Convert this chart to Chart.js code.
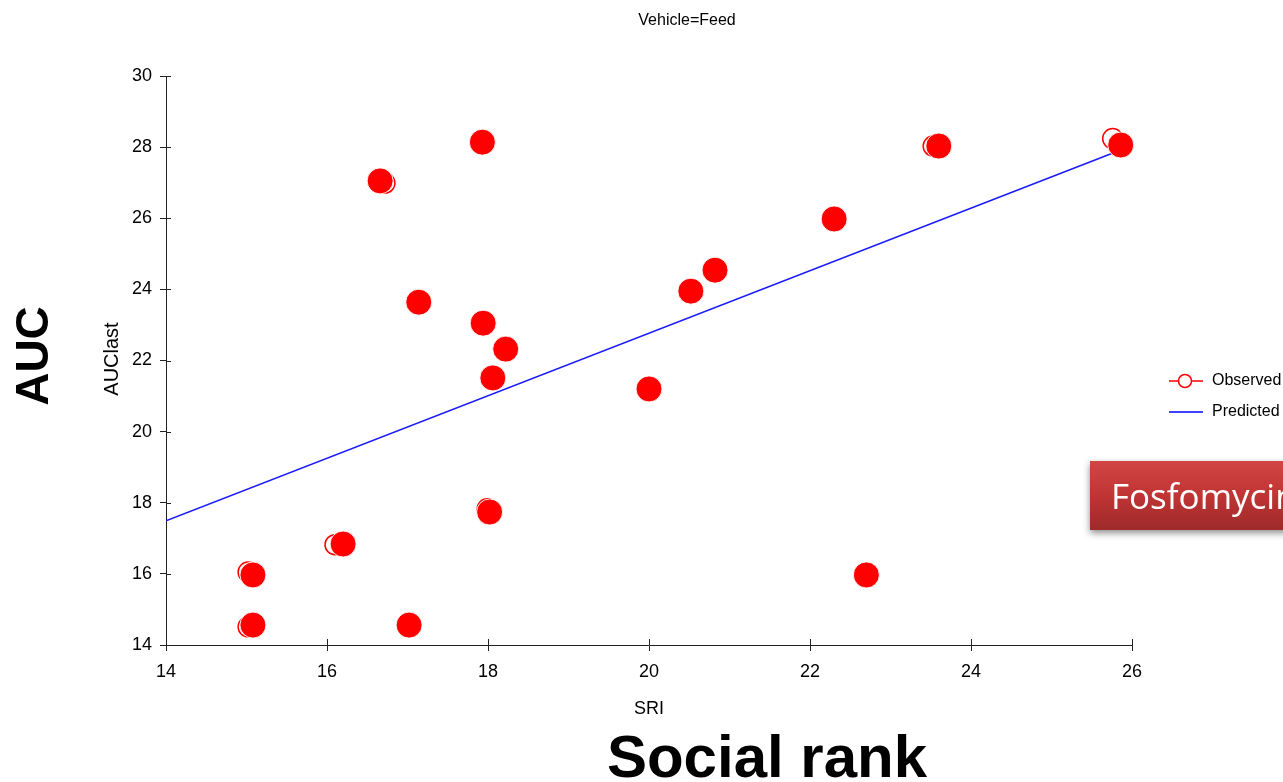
<!DOCTYPE html>
<html>
<head>
<meta charset="utf-8">
<title>Vehicle=Feed</title>
<script src="https://cdn.jsdelivr.net/npm/chart.js@4/dist/chart.umd.min.js"></script>
<style>
  html, body { margin: 0; padding: 0; background: #fff; }
  #wrap { width: 1283px; height: 782px; }
</style>
</head>
<body>
<div id="wrap"><canvas id="auc-chart" width="1283" height="782"></canvas></div>
<script>
// observed points (SRI vs AUClast)
var sri = [17.93, 16.66, 25.86, 23.60, 22.30, 20.82, 20.52, 17.14, 17.94, 18.22, 18.06, 20.00, 18.02, 16.20, 15.08, 22.70, 15.08, 17.02];
var auc = [28.14, 27.05, 28.06, 28.03, 25.98, 24.54, 23.95, 23.64, 23.05, 22.32, 21.51, 21.20, 17.74, 16.84, 15.97, 15.97, 14.56, 14.56];

// repeated observations peeking out behind the filled markers
var sriDup = [16.72, 16.10, 15.02, 15.02, 23.53, 25.76, 17.99];
var aucDup = [26.99, 16.82, 16.05, 14.51, 28.03, 28.24, 17.83];

// regression line
var predX = [14, 25.86];
var predY = [17.49, 27.92];

var xTicks = [14, 16, 18, 20, 22, 24, 26];
var yTicks = [14, 16, 18, 20, 22, 24, 26, 28, 30];

function toPoints(xs, ys) {
    return xs.map(function (x, i) { return { x: x, y: ys[i] }; });
}

Chart.defaults.font.family = "'Liberation Sans', Arial, sans-serif";
Chart.defaults.color = '#000';

// ticks cross the axis in the original, so add the inner half by hand
var innerTicks = {
    id: 'innerTicks',
    beforeDatasetsDraw: function (chart) {
        var ctx = chart.ctx;
        var xs = chart.scales.x, ys = chart.scales.y;
        ctx.save();
        ctx.strokeStyle = '#222';
        ctx.lineWidth = 1;
        ctx.beginPath();
        xTicks.forEach(function (v) {
            var px = Math.round(xs.getPixelForValue(v)) + 0.5;
            ctx.moveTo(px, ys.bottom);
            ctx.lineTo(px, ys.bottom - 6);
        });
        yTicks.forEach(function (v) {
            var py = Math.round(ys.getPixelForValue(v)) + 0.5;
            ctx.moveTo(xs.left, py);
            ctx.lineTo(xs.left + 5, py);
        });
        ctx.stroke();
        ctx.restore();
    }
};

var extras = {
    id: 'extras',
    afterDraw: function (chart) {
        var ctx = chart.ctx;
        ctx.save();
        ctx.fillStyle = '#000';

        ctx.font = "16px 'Liberation Sans', Arial, sans-serif";
        ctx.textAlign = 'center';
        ctx.textBaseline = 'alphabetic';
        ctx.fillText('Vehicle=Feed', 687, 25);

        ctx.font = "18px 'Liberation Sans', Arial, sans-serif";
        ctx.fillText('SRI', 649, 714);

        ctx.save();
        ctx.translate(118, 359);
        ctx.rotate(-Math.PI / 2);
        ctx.font = "20px 'Liberation Sans', Arial, sans-serif";
        ctx.fillText('AUClast', 0, 0);
        ctx.restore();

        // slide annotations
        ctx.save();
        ctx.translate(48, 356);
        ctx.rotate(-Math.PI / 2);
        ctx.font = "bold 46px 'Liberation Sans', Arial, sans-serif";
        ctx.fillText('AUC', 0, 0);
        ctx.restore();

        ctx.font = "bold 60px 'Liberation Sans', Arial, sans-serif";
        ctx.fillText('Social rank', 767, 777);

        // legend
        ctx.lineWidth = 1.5;
        ctx.strokeStyle = '#ff0000';
        ctx.beginPath();
        ctx.moveTo(1169, 381); ctx.lineTo(1203, 381);
        ctx.stroke();
        ctx.beginPath();
        ctx.arc(1185, 381, 6.5, 0, Math.PI * 2);
        ctx.fillStyle = '#fff';
        ctx.fill();
        ctx.stroke();
        ctx.strokeStyle = '#0000ff';
        ctx.beginPath();
        ctx.moveTo(1169, 412); ctx.lineTo(1203, 412);
        ctx.stroke();
        ctx.fillStyle = '#000';
        ctx.font = "16px 'Liberation Sans', Arial, sans-serif";
        ctx.textAlign = 'left';
        ctx.textBaseline = 'middle';
        ctx.fillText('Observed', 1212, 381);
        ctx.fillText('Predicted', 1212, 412);

        // red label box
        ctx.save();
        ctx.shadowColor = 'rgba(0,0,0,0.45)';
        ctx.shadowBlur = 7;
        ctx.shadowOffsetY = 3;
        var g = ctx.createLinearGradient(0, 461, 0, 530);
        g.addColorStop(0, '#d34545');
        g.addColorStop(0.5, '#c03434');
        g.addColorStop(1, '#9e2a2a');
        ctx.fillStyle = g;
        ctx.fillRect(1090, 461, 220, 69);
        ctx.restore();
        ctx.fillStyle = '#fff';
        ctx.font = "35px 'Open Sans', sans-serif";
        ctx.textBaseline = 'alphabetic';
        ctx.fillText('Fosfomycin', 1111, 509);

        ctx.restore();
    }
};

var ctxAuc = document.getElementById('auc-chart').getContext('2d');
var aucChart = new Chart(ctxAuc, {
    type: 'scatter',
    data: {
        datasets: [{
            label: 'Observed',
            data: toPoints(sri, auc),
            clip: false,
            pointRadius: 13,
            pointBackgroundColor: '#ff0000',
            pointBorderColor: 'rgba(255,255,255,0.9)',
            pointBorderWidth: 1
        }, {
            label: 'Observed (repeat)',
            data: toPoints(sriDup, aucDup),
            clip: false,
            pointRadius: 10,
            pointBackgroundColor: '#fff',
            pointBorderColor: '#ff0000',
            pointBorderWidth: 1.5
        }, {
            type: 'line',
            label: 'Predicted',
            data: toPoints(predX, predY),
            borderColor: '#1a1aff',
            borderWidth: 1.5,
            pointRadius: 0,
            fill: false
        }]
    },
    options: {
        responsive: false,
        animation: false,
        layout: { padding: { top: 76, right: 151, left: 0, bottom: 0 } },
        plugins: {
            legend: { display: false },
            tooltip: { enabled: false }
        },
        scales: {
            x: {
                type: 'linear',
                min: 14,
                max: 26,
                afterFit: function (scale) { scale.height = 137; },
                afterBuildTicks: function (scale) {
                    scale.ticks = xTicks.map(function (v) { return { value: v }; });
                },
                ticks: { font: { size: 18 }, color: '#000', padding: 10 },
                grid: { drawOnChartArea: false, tickLength: 6, color: '#222' },
                border: { color: '#222', width: 1 }
            },
            y: {
                type: 'linear',
                min: 14,
                max: 30,
                afterFit: function (scale) { scale.width = 166; },
                afterBuildTicks: function (scale) {
                    scale.ticks = yTicks.map(function (v) { return { value: v }; });
                },
                ticks: { font: { size: 18 }, color: '#000', padding: 8 },
                grid: { drawOnChartArea: false, tickLength: 6, color: '#222' },
                border: { color: '#222', width: 1 }
            }
        }
    },
    plugins: [innerTicks, extras]
});
</script>
</body>
</html>
